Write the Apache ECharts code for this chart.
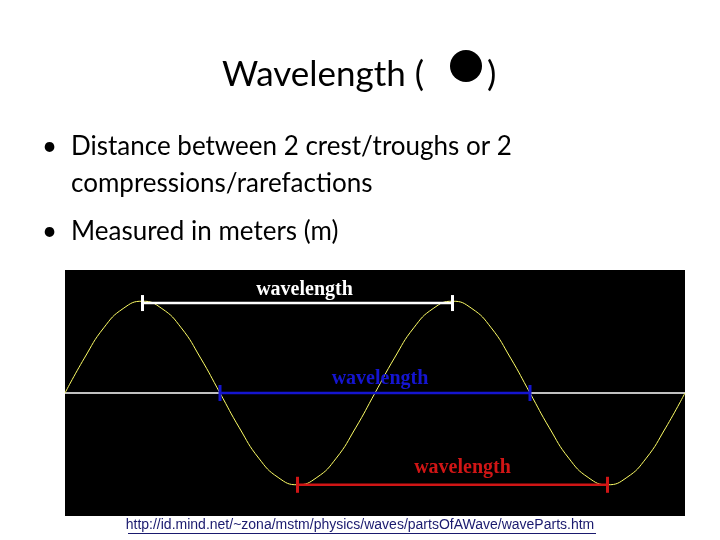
<!DOCTYPE html>
<html><head><meta charset="utf-8">
<script src="https://cdn.jsdelivr.net/npm/echarts@6/dist/echarts.min.js"></script>
<style>body{margin:0;background:#fff}#c{width:720px;height:540px}</style>
</head><body><div id="c"></div>
<script>
// x in quarter periods, y displacement
var waveX = [0,0.25,0.5,0.75,1,1.25,1.5,1.75,2,2.25,2.5,2.75,3,3.25,3.5,3.75,4,
	4.25,4.5,4.75,5,5.25,5.5,5.75,6,6.25,6.5,6.75,7,7.25,7.5,7.75,8];
var waveY = [0,0.38,0.71,0.92,1,0.92,0.71,0.38,0,-0.38,-0.71,-0.92,-1,-0.92,-0.71,-0.38,0,
	0.38,0.71,0.92,1,0.92,0.71,0.38,0,-0.38,-0.71,-0.92,-1,-0.92,-0.71,-0.38,0];
// measurement bars: [x start, x end, y level]
var barWhite = [1, 5, 0.98];
var barBlue = [2, 6, 0];
var barRed = [3, 7, -1];
var labelText = 'wavelength';

function pairs(xs, ys){ var r=[]; for(var i=0;i<xs.length;i++) r.push([xs[i],ys[i]]); return r; }
function barSeries(b, color){
	return {
		type:'line', data:[[b[0],b[2]],[b[1],b[2]]],
		symbol:'rect', symbolSize:[3,16], silent:true,
		lineStyle:{color:color,width:2.5}, itemStyle:{color:color}, z:5
	};
}

var chart = echarts.init(document.getElementById('c'));
chart.setOption({
	animation:false,
	grid:{left:65,top:270,width:620,height:246,show:true,backgroundColor:'#000',borderWidth:0},
	xAxis:{type:'value',min:0,max:8,axisLine:{onZero:true,lineStyle:{color:'#fff',width:1.5}},
		axisTick:{show:false},axisLabel:{show:false},splitLine:{show:false}},
	yAxis:{type:'value',min:-1.34,max:1.34,show:false},
	series:[
		{type:'line',smooth:true,data:pairs(waveX,waveY),showSymbol:false,lineStyle:{color:'#ffff66',width:1}},
		barSeries(barWhite,'#ffffff'),
		barSeries(barBlue,'#1515d0'),
		barSeries(barRed,'#d01515')
	]
});
var g = [
	{type:'text',left:222,top:57,style:{text:'Wavelength (',font:'35px Lato',fill:'#000'}},
	{type:'text',left:487,top:57,style:{text:')',font:'35px Lato',fill:'#000'}},
	{type:'circle',shape:{cx:466,cy:66,r:16},style:{fill:'#000'}},
	{type:'text',left:42,top:134,style:{text:'•',font:'26px Lato',fill:'#000'}},
	{type:'text',left:71,top:134,style:{text:'Distance between 2 crest/troughs or 2',font:'26px Lato',fill:'#000'}},
	{type:'text',left:71,top:171,style:{text:'compressions/rarefactions',font:'26px Lato',fill:'#000'}},
	{type:'text',left:42,top:219,style:{text:'•',font:'26px Lato',fill:'#000'}},
	{type:'text',left:71,top:219,style:{text:'Measured in meters (m)',font:'26px Lato',fill:'#000'}},
	{type:'text',left:'center',top:518,style:{text:'http://id.mind.net/~zona/mstm/physics/waves/partsOfAWave/waveParts.htm',
		font:'14px "Liberation Sans"',fill:'#1a1a6e'}},
	{type:'rect',shape:{x:128,y:533,width:468,height:1},style:{fill:'#1a1a6e'}}
];
// place labels above the middle of each bar
var labs = [[barWhite,'#ffffff',-3,7],[barBlue,'#1515d0',-4,5],[barRed,'#d01515',-7,10]];
labs.forEach(function(l){
	var p = chart.convertToPixel({seriesIndex:0},[(l[0][0]+l[0][1])/2,l[0][2]]);
	g.push({type:'text',x:p[0]+l[3],y:p[1]+l[2],z:10,
		style:{text:labelText,font:'bold 20px "Liberation Serif"',fill:l[1],align:'center',verticalAlign:'bottom'}});
});
chart.setOption({graphic:g});
</script></body></html>
